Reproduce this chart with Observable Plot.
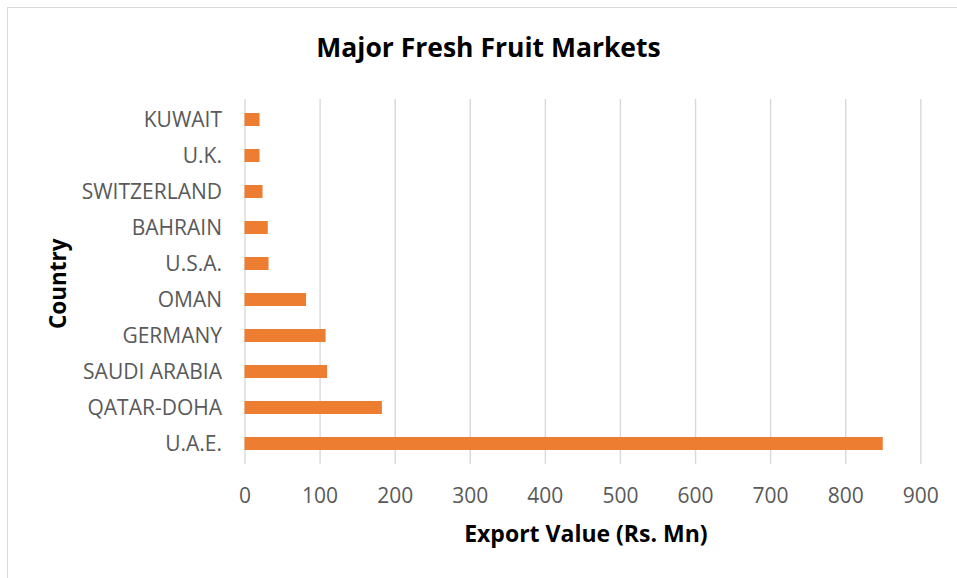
<!DOCTYPE html>
<html>
<head>
<meta charset="utf-8">
<script src="https://cdn.jsdelivr.net/npm/d3@7"></script>
<script src="https://cdn.jsdelivr.net/npm/@observablehq/plot@0.6"></script>
<style>
  html, body { margin: 0; padding: 0; background: #fff; }
  #wrap { position: relative; width: 957px; height: 578px; overflow: hidden; }
  #border { position: absolute; left: 7px; top: 7px; width: 960px; height: 580px;
            border-left: 1.5px solid #D9D9D9; border-top: 1.5px solid #D9D9D9; pointer-events: none; }
</style>
</head>
<body>
<div id="wrap"><div id="border"></div></div>
<script>
const countries = ["KUWAIT", "U.K.", "SWITZERLAND", "BAHRAIN", "U.S.A.", "OMAN", "GERMANY", "SAUDI ARABIA", "QATAR-DOHA", "U.A.E."];
const exportValues = [20, 20, 24, 31, 32, 82, 108, 110, 183, 850];
const xTicks = [0, 100, 200, 300, 400, 500, 600, 700, 800, 900];
const chartTitle = "Major Fresh Fruit Markets";
const xTitle = "Export Value (Rs. Mn)";
const yTitle = "Country";

const data = countries.map((c, i) => ({country: c, value: exportValues[i]}));

const chart = Plot.plot({
  width: 957,
  height: 578,
  marginTop: 99,
  marginBottom: 114,
  marginLeft: 244.5,
  marginRight: 36.7,
  style: {fontFamily: "'Open Sans', sans-serif", background: "transparent"},
  x: {domain: [0, 900]},
  y: {domain: countries, paddingInner: 0.645, paddingOuter: 0.3225, align: 0.5},
  marks: [
    Plot.gridX(xTicks, {stroke: "#D9D9D9", strokeWidth: 1.4, strokeOpacity: 1}),
    Plot.barX(data, {x: "value", y: "country", fill: "#ED7D31"}),
    Plot.axisX({ticks: xTicks, tickSize: 0, tickPadding: 24, fontSize: 21, fill: "#595959", label: null}),
    Plot.axisY({tickSize: 0, tickPadding: 23, fontSize: 21, fill: "#595959", label: null}),
    Plot.text([chartTitle], {frameAnchor: "top-left", dx: 243.5, dy: -61, textAnchor: "middle", fontSize: 26.5, fontWeight: "bold", fill: "#000"}),
    Plot.text([xTitle], {frameAnchor: "bottom", dx: 3, dy: 77, fontSize: 23, fontWeight: "bold", fill: "#000"}),
    Plot.text([yTitle], {frameAnchor: "left", dx: -186.5, dy: 47, rotate: -90, fontSize: 22.5, fontWeight: "bold", fill: "#000"})
  ]
});
document.getElementById("wrap").prepend(chart);
</script>
</body>
</html>
